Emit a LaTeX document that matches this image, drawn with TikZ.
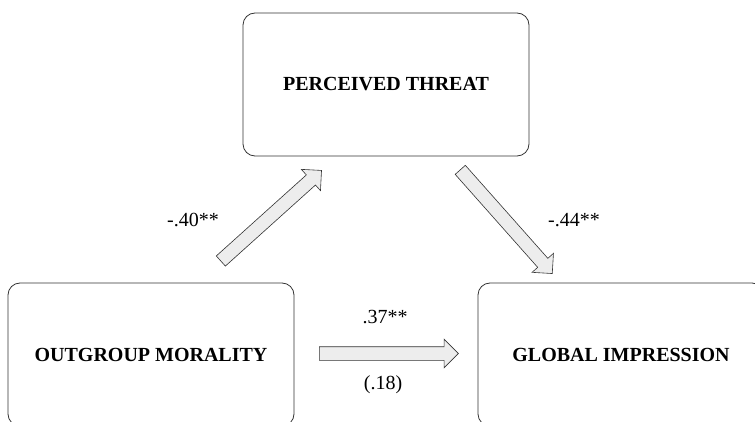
\documentclass[tikz,border=0pt]{standalone}
\usepackage{fontspec}
\setmainfont{Liberation Serif}
\usepackage{tikz}
\usetikzlibrary{shapes}
\usetikzlibrary{arrows}
\usetikzlibrary{positioning}
\usetikzlibrary{calc}
\definecolor{grisfleche}{HTML}{EDEDED}
\definecolor{grisbord}{HTML}{333333}
\tikzstyle{bloc}=[
        rectangle,
        draw=grisbord,
        line width=0.8pt,
        rounded corners=12pt,
        minimum width=286pt,
        minimum height=143pt,
        font=\fontsize{20}{24}\selectfont\bfseries
]
\tikzstyle{coef}=[anchor=base,inner sep=0pt,font=\fontsize{20}{24}\selectfont]
\tikzstyle{fleche}=[to path={
        let \p1=($(\tikztotarget)-(\tikztostart)$),
        \n1={atan2(\y1,\x1)}, \n2={veclen(\x1,\y1)} in
        node[single arrow,draw=grisbord,fill=grisfleche,line width=0.6pt,
        inner sep=6.5pt,single arrow head extend=7.5pt,
        minimum height=\n2,rotate=\n1]
        at ($(\tikztostart)!0.5!(\tikztotarget)$) {}}]

\begin{document}
\begin{tikzpicture}[x=1pt,y=-1pt]
\clip (0,0) rectangle (755,422);
\useasboundingbox (0,0) rectangle (755,422);
\node[bloc] (pt) at (386,84.5) {PERCEIVED THREAT};
\node[bloc] (om) at (151,354.5) {OUTGROUP MORALITY};
\node[bloc] (gi) at (621,354.5) {GLOBAL IMPRESSION};
\coordinate (a1) at (218.3,263.3);
\coordinate (a2) at (319,172.7);
\coordinate (b1) at (458,167.3);
\coordinate (b2) at (550,271);
\coordinate (c1) at (316,353.5);
\coordinate (c2) at (455,353.5);
%Drawing Edges
\path[fleche] (a1) to (a2);
\path[fleche] (b1) to (b2);
\path[fleche] (c1) to (c2);
\node[coef] (la) at (193,227) {-.40**};
\node[coef] (lb) at (574,227) {-.44**};
\node[coef] (lc) at (385,323) {.37**};
\node[coef] (ld) at (383,389) {(.18)};
\end{tikzpicture}
\end{document}
